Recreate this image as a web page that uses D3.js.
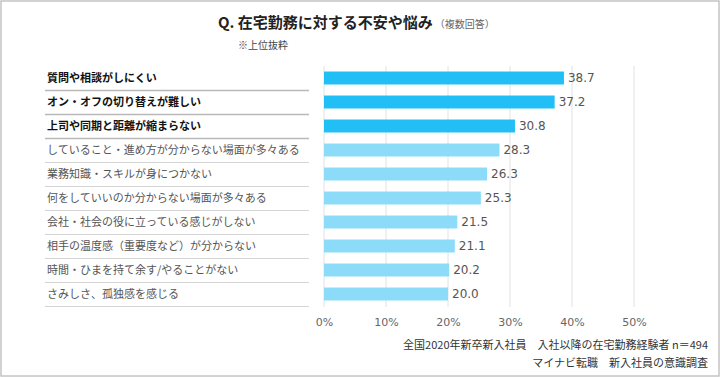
<!DOCTYPE html>
<html><head><meta charset="utf-8">
<script src="https://cdn.jsdelivr.net/npm/d3@7"></script>
<style>body{margin:0;background:#fff}svg{display:block}</style>
</head><body><svg id="c" width="720" height="377"></svg>
<script>
const categories = ["質問や相談がしにくい","オン・オフの切り替えが難しい","上司や同期と距離が縮まらない","していること・進め方が分からない場面が多々ある","業務知識・スキルが身につかない","何をしていいのか分からない場面が多々ある","会社・社会の役に立っている感じがしない","相手の温度感（重要度など）が分からない","時間・ひまを持て余す/やることがない","さみしさ、孤独感を感じる"];
const values = [38.7,37.2,30.8,28.3,26.3,25.3,21.5,21.1,20.2,20.0];
const highlighted = [true,true,true,false,false,false,false,false,false,false];
const tickValues = [0,10,20,30,40,50];
const title = "Q. 在宅勤務に対する不安や悩み";
const titleNote = "（複数回答）";
const subNote = "※上位抜粋";
const footer = ["全国2020年新卒新入社員　入社以降の在宅勤務経験者 n＝494","マイナビ転職　新入社員の意識調査"];

const svg = d3.select("#c");
const JP = "'Noto Sans CJK JP','Noto Sans',sans-serif";
const NUM = "'DejaVu Sans',sans-serif";

svg.append("rect").attr("x",1).attr("y",1).attr("width",718).attr("height",375)
  .attr("fill","#fff").attr("stroke","#c4c4c4").attr("stroke-width",1.5);

const x = d3.scaleLinear().domain([0,50]).range([324,634]);
const y = d3.scaleBand().domain(categories).range([66,306]).paddingInner(0.46).paddingOuter(0.23);
const step = y.step();

// gridlines
svg.append("g").selectAll("line").data(tickValues).join("line")
  .attr("x1",d=>x(d)).attr("x2",d=>x(d)).attr("y1",66).attr("y2",307)
  .attr("stroke","#e2e2e2").attr("stroke-width",1);

// separators
svg.append("g").selectAll("line").data(categories).join("line")
  .attr("x1",45).attr("x2",309)
  .attr("y1",(d,i)=>66+step*(i+1)+0.5).attr("y2",(d,i)=>66+step*(i+1)+0.5)
  .attr("stroke",(d,i)=>i<3?"#b8b8b8":"#d4d4d4").attr("stroke-width",(d,i)=>i<3?1.3:1);

// labels
svg.append("g").selectAll("text").data(categories).join("text")
  .attr("x",47).attr("y",d=>y(d)+y.bandwidth()/2)
  .attr("dy","0.36em")
  .attr("font-family",JP).attr("font-size",11)
  .attr("font-weight",(d,i)=>highlighted[i]?"bold":"normal")
  .attr("fill",(d,i)=>highlighted[i]?"#111":"#555")
  .text(d=>d);

// bars
svg.append("g").selectAll("rect").data(values).join("rect")
  .attr("x",x(0)).attr("y",(d,i)=>y(categories[i]))
  .attr("width",d=>x(d)-x(0)).attr("height",y.bandwidth())
  .attr("fill",(d,i)=>highlighted[i]?"#21bff5":"#8cdcf9");

// value labels
svg.append("g").selectAll("text").data(values).join("text")
  .attr("x",d=>x(d)+4).attr("y",(d,i)=>y(categories[i])+y.bandwidth()/2)
  .attr("dy","0.36em")
  .attr("font-family",NUM).attr("font-size",12).attr("fill","#555")
  .text(d=>d.toFixed(1));

// axis
const axis = d3.axisBottom(x).tickValues(tickValues).tickFormat(d=>d+"%").tickSize(0).tickPadding(0);
const ag = svg.append("g").attr("transform","translate(0,318)").call(axis);
ag.select(".domain").remove();
ag.selectAll("text").attr("font-family",NUM).attr("font-size",11).attr("fill","#666").attr("dy","0.71em");

// title
const t = svg.append("text").attr("x",218).attr("y",28).attr("font-family",JP);
t.append("tspan").attr("font-size",15).attr("font-weight","bold").attr("fill","#222").text(title);
t.append("tspan").attr("font-size",10).attr("fill","#666").attr("dx",2).text(titleNote);
svg.append("text").attr("x",238).attr("y",49).attr("font-family",JP).attr("font-size",10).attr("fill","#444").text(subNote);

// footer
svg.append("g").selectAll("text").data(footer).join("text")
  .attr("x",708).attr("y",(d,i)=>349+i*18).attr("text-anchor","end")
  .attr("font-family",JP).attr("font-size",11).attr("fill","#333").text(d=>d);
</script></body></html>
